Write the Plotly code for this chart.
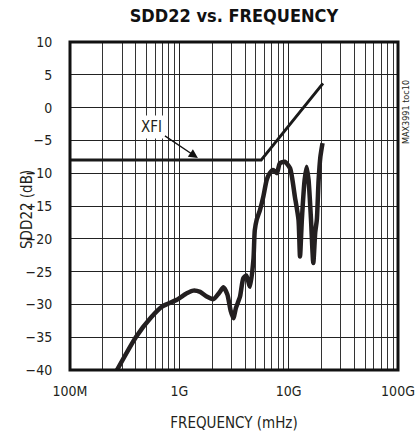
import plotly.graph_objects as go

# XFI mask (frequency in Hz, dB)
mask_freq = [1e8, 5.6e9, 20.6e9]
mask_db = [-8.0, -8.0, 3.7]

# Measured SDD22 (frequency in GHz, dB)
meas_freq_ghz = [0.265, 0.40, 0.55, 0.70, 0.95, 1.17, 1.34, 1.55, 1.78, 2.05, 2.3, 2.53,
                 2.75, 2.95, 3.12, 3.3, 3.59, 3.85, 4.1, 4.43, 4.76, 4.9, 5.1, 5.47,
                 5.86, 6.3, 6.7, 7.2, 7.8, 8.3, 9.2, 10.3, 11.4, 12.3, 12.7, 13.2,
                 14.0, 14.6, 15.2, 16.0, 16.8, 17.5, 18.1, 18.8, 19.5, 20.4]
meas_db = [-40.2, -35.0, -32.0, -30.3, -29.3, -28.3, -27.9, -28.1, -28.8, -29.2, -28.3, -27.4,
           -28.5, -31.0, -32.1, -30.5, -28.8, -26.0, -25.6, -27.3, -23.2, -18.7, -17.1, -15.6,
           -13.6, -11.0, -10.0, -9.5, -10.0, -8.5, -8.25, -9.25, -13.6, -17.1, -22.7, -17.1,
           -11.0, -9.0, -11.0, -17.0, -23.7, -19.0, -17.1, -11.0, -7.5, -5.4]

x_tick_vals = [1e8, 1e9, 1e10, 1e11]
x_tick_text = ["100M", "1G", "10G", "100G"]
y_tick_vals = [10, 5, 0, -5, -10, -15, -20, -25, -30, -35, -40]

minor_vals = [m * 10 ** d for d in (8, 9, 10) for m in range(2, 10)]

FONT = "DejaVu Sans Condensed, Liberation Sans Narrow, Roboto, sans-serif"

fig = go.Figure()
fig.add_trace(go.Scatter(x=mask_freq, y=mask_db, mode="lines",
                         line=dict(color="#1a1a1a", width=3), showlegend=False,
                         hoverinfo="skip"))
fig.add_trace(go.Scatter(x=[f * 1e9 for f in meas_freq_ghz], y=meas_db, mode="lines",
                         line=dict(color="#231f20", width=4.5, shape="spline", smoothing=0.6),
                         showlegend=False, cliponaxis=True, hoverinfo="skip"))

fig.update_layout(
    width=417, height=432,
    margin=dict(l=70, r=19, t=42, b=62, autoexpand=False),
    paper_bgcolor="white", plot_bgcolor="white",
    font=dict(family=FONT, size=15, color="#231f20"),
    title=dict(text="<b>SDD22 vs. FREQUENCY</b>", x=0.561, xanchor="center",
               y=0.963, yanchor="middle", automargin=False,
               font=dict(family=FONT, size=18, color="#111")),
    xaxis=dict(type="log", range=[8, 11], tickvals=x_tick_vals, ticktext=x_tick_text,
               showgrid=True, gridcolor="#222", gridwidth=1, zeroline=False,
               ticks="outside", ticklen=8, tickcolor="rgba(0,0,0,0)", automargin=False,
               ticklabeloverflow="allow",
               minor=dict(tickvals=minor_vals, showgrid=True, gridcolor="#333", gridwidth=1, ticks=""),
               title=dict(text="FREQUENCY (mHz)", standoff=24, font=dict(size=15)),
               tickfont=dict(size=14)),
    yaxis=dict(range=[-40, 10], tickvals=y_tick_vals, showgrid=True, gridcolor="#222",
               gridwidth=1, zeroline=False, ticks="outside", ticklen=14,
               tickcolor="rgba(0,0,0,0)", automargin=False,
               tickfont=dict(size=14)),
    shapes=[dict(type="rect", xref="paper", yref="paper", x0=0, y0=0, x1=1, y1=1,
                 line=dict(color="#111", width=3))],
    annotations=[
        dict(x=-0.131, y=0.488, xref="paper", yref="paper", text="SDD22 (dB)",
             showarrow=False, textangle=-90, xanchor="center", yanchor="middle",
             font=dict(family=FONT, size=15, color="#231f20")),
        dict(x=9.17, y=-7.7, xref="x", yref="y", text="XFI", showarrow=True,
             ax=-46, ay=-31, arrowhead=2, arrowsize=1.4, arrowwidth=1.3,
             arrowcolor="#111", bgcolor="white", borderpad=2, standoff=0,
             font=dict(family=FONT, size=15, color="#231f20")),
        dict(x=1.0, y=0.89, xref="paper", yref="paper", text="MAX3991 toc10",
             showarrow=False, textangle=-90, xanchor="left", xshift=1,
             font=dict(family=FONT, size=9, color="#231f20")),
    ],
)

fig.write_html("out.html", config={"displayModeBar": False},
               post_script="document.body.style.margin='0';document.body.style.overflow='hidden';")
